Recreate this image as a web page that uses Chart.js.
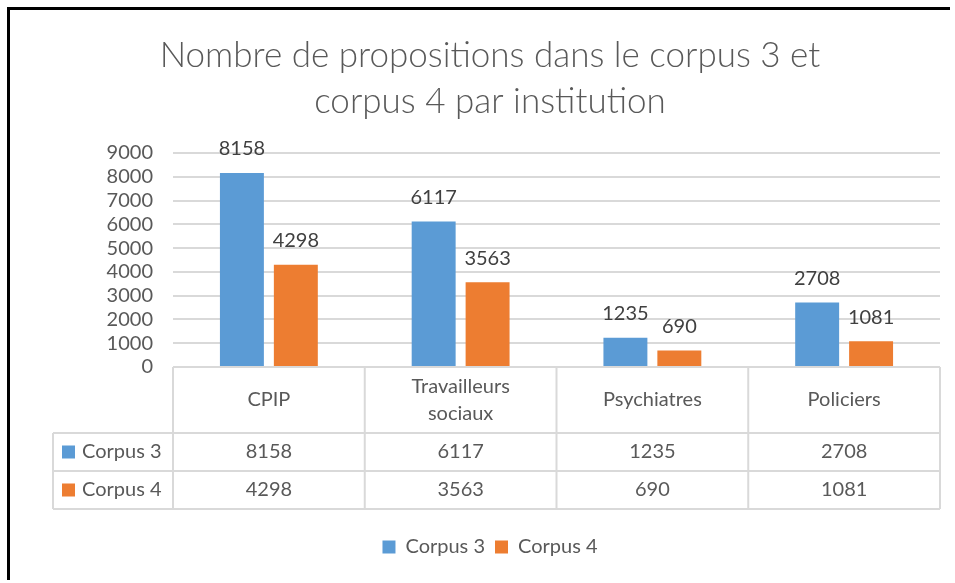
<!DOCTYPE html>
<html>
<head>
<meta charset="utf-8">
<script src="https://cdn.jsdelivr.net/npm/chart.js@4.4.0/dist/chart.umd.min.js"></script>
<style>
  html, body { margin: 0; padding: 0; background: #fff; overflow: hidden; width: 955px; height: 583px; }
  #frame { position: absolute; left: 7px; top: 7px; width: 940px; height: 570px; border-left: 3px solid #000; border-top: 3px solid #000; }
  #wrap { position: absolute; left: 0; top: 0; width: 955px; height: 583px; }
</style>
</head>
<body>
<div id="frame"></div>
<div id="wrap"><canvas id="chart"></canvas></div>
<script>
(() => {
    // Données
    const categories = ['CPIP', ['Travailleurs', 'sociaux'], 'Psychiatres', 'Policiers'];
    const seriesNames = ['Corpus 3', 'Corpus 4'];
    const corpus3 = [8158, 6117, 1235, 2708];
    const corpus4 = [4298, 3563, 690, 1081];
    const yTicks = [0, 1000, 2000, 3000, 4000, 5000, 6000, 7000, 8000, 9000];

    const colors = ['#5b9bd5', '#ed7d31'];
    const textColor = '#595959';
    const lineColor = '#d9d9d9';
    const fontFamily = 'Lato, "Open Sans", sans-serif';

    // Étiquettes de valeur au-dessus des barres
    const valueLabels = {
        id: 'valueLabels',
        afterDatasetsDraw(chart) {
            const ctx = chart.ctx;
            ctx.save();
            ctx.font = '20px ' + fontFamily;
            ctx.fillStyle = '#404040';
            ctx.textAlign = 'center';
            ctx.textBaseline = 'middle';
            chart.data.datasets.forEach((ds, i) => {
                chart.getDatasetMeta(i).data.forEach((bar, j) => {
                    ctx.fillText(String(ds.data[j]), bar.x, bar.y - 24);
                });
            });
            ctx.restore();
        }
    };

    // Tableau de données sous l'axe (comme dans Excel)
    const dataTable = {
        id: 'dataTable',
        afterDraw(chart) {
            const ctx = chart.ctx;
            const x = chart.scales.x;
            const top = chart.chartArea.bottom;
            const catH = 66, rowH = 38;
            const n = chart.data.labels.length;
            const colW = (x.right - x.left) / n;
            const leftCol = x.left - 120;
            const rowsTop = top + catH;
            const bottom = rowsTop + rowH * seriesNames.length;

            ctx.save();
            ctx.strokeStyle = lineColor;
            ctx.lineWidth = 2;
            ctx.beginPath();
            // lignes horizontales
            ctx.moveTo(x.left, top); ctx.lineTo(x.right, top);
            for (let r = 0; r <= seriesNames.length; r++) {
                const yy = rowsTop + r * rowH;
                ctx.moveTo(leftCol, yy); ctx.lineTo(x.right, yy);
            }
            // lignes verticales
            for (let c = 0; c <= n; c++) {
                const xx = x.left + c * colW;
                ctx.moveTo(xx, top); ctx.lineTo(xx, bottom);
            }
            ctx.moveTo(leftCol, rowsTop); ctx.lineTo(leftCol, bottom);
            ctx.stroke();

            ctx.font = '20px ' + fontFamily;
            ctx.fillStyle = textColor;
            ctx.textAlign = 'center';
            ctx.textBaseline = 'middle';
            chart.data.labels.forEach((lab, i) => {
                const cx = x.getPixelForValue(i);
                const lines = Array.isArray(lab) ? lab : [lab];
                const lh = 27;
                const y0 = top + catH / 2 - (lines.length - 1) * lh / 2;
                lines.forEach((ln, k) => ctx.fillText(ln, cx, y0 + k * lh));
            });
            chart.data.datasets.forEach((ds, r) => {
                const cy = rowsTop + r * rowH + rowH / 2;
                ctx.textAlign = 'center';
                ctx.fillStyle = textColor;
                ds.data.forEach((v, i) => ctx.fillText(String(v), x.getPixelForValue(i), cy));
                ctx.fillStyle = colors[r];
                ctx.fillRect(leftCol + 9, cy - 6.5, 13, 13);
                ctx.fillStyle = textColor;
                ctx.textAlign = 'left';
                ctx.fillText(ds.label, leftCol + 29, cy);
            });
            ctx.restore();
        }
    };

    new Chart(document.getElementById('chart'), {
        type: 'bar',
        data: {
            labels: categories,
            datasets: seriesNames.map((name, i) => ({
                label: name,
                data: i === 0 ? corpus3 : corpus4,
                backgroundColor: colors[i],
                categoryPercentage: 0.5625,
                barPercentage: 0.815
            }))
        },
        options: {
            responsive: true,
            maintainAspectRatio: false,
            animation: false,
            layout: { padding: { left: 40, right: 15, top: 0, bottom: 16 } },
            plugins: {
                title: {
                    display: true,
                    text: ['Nombre de propositions dans le corpus 3 et', 'corpus 4 par institution'],
                    color: textColor,
                    font: { family: fontFamily, size: 35, weight: '300', lineHeight: 1.3 },
                    padding: { top: 33, bottom: 29 }
                },
                legend: {
                    position: 'bottom',
                    labels: {
                        color: textColor,
                        font: { family: fontFamily, size: 20 },
                        boxWidth: 13,
                        boxHeight: 13,
                        padding: 10
                    }
                },
                tooltip: { enabled: false }
            },
            scales: {
                x: {
                    grid: { display: false },
                    border: { display: false },
                    ticks: { display: false },
                    afterFit(scale) { scale.height = 160; }
                },
                y: {
                    min: 0,
                    max: yTicks[yTicks.length - 1],
                    afterBuildTicks(scale) { scale.ticks = yTicks.map(v => ({ value: v })); },
                    grid: { color: lineColor, lineWidth: 2, drawTicks: false },
                    border: { display: false },
                    ticks: {
                        color: textColor,
                        font: { family: fontFamily, size: 20 },
                        padding: 20,
                        autoSkip: false,
                        callback: v => String(v)
                    },
                    afterFit(scale) { scale.width = 133; }
                }
            }
        },
        plugins: [valueLabels, dataTable]
    });
})();
</script>
</body>
</html>
